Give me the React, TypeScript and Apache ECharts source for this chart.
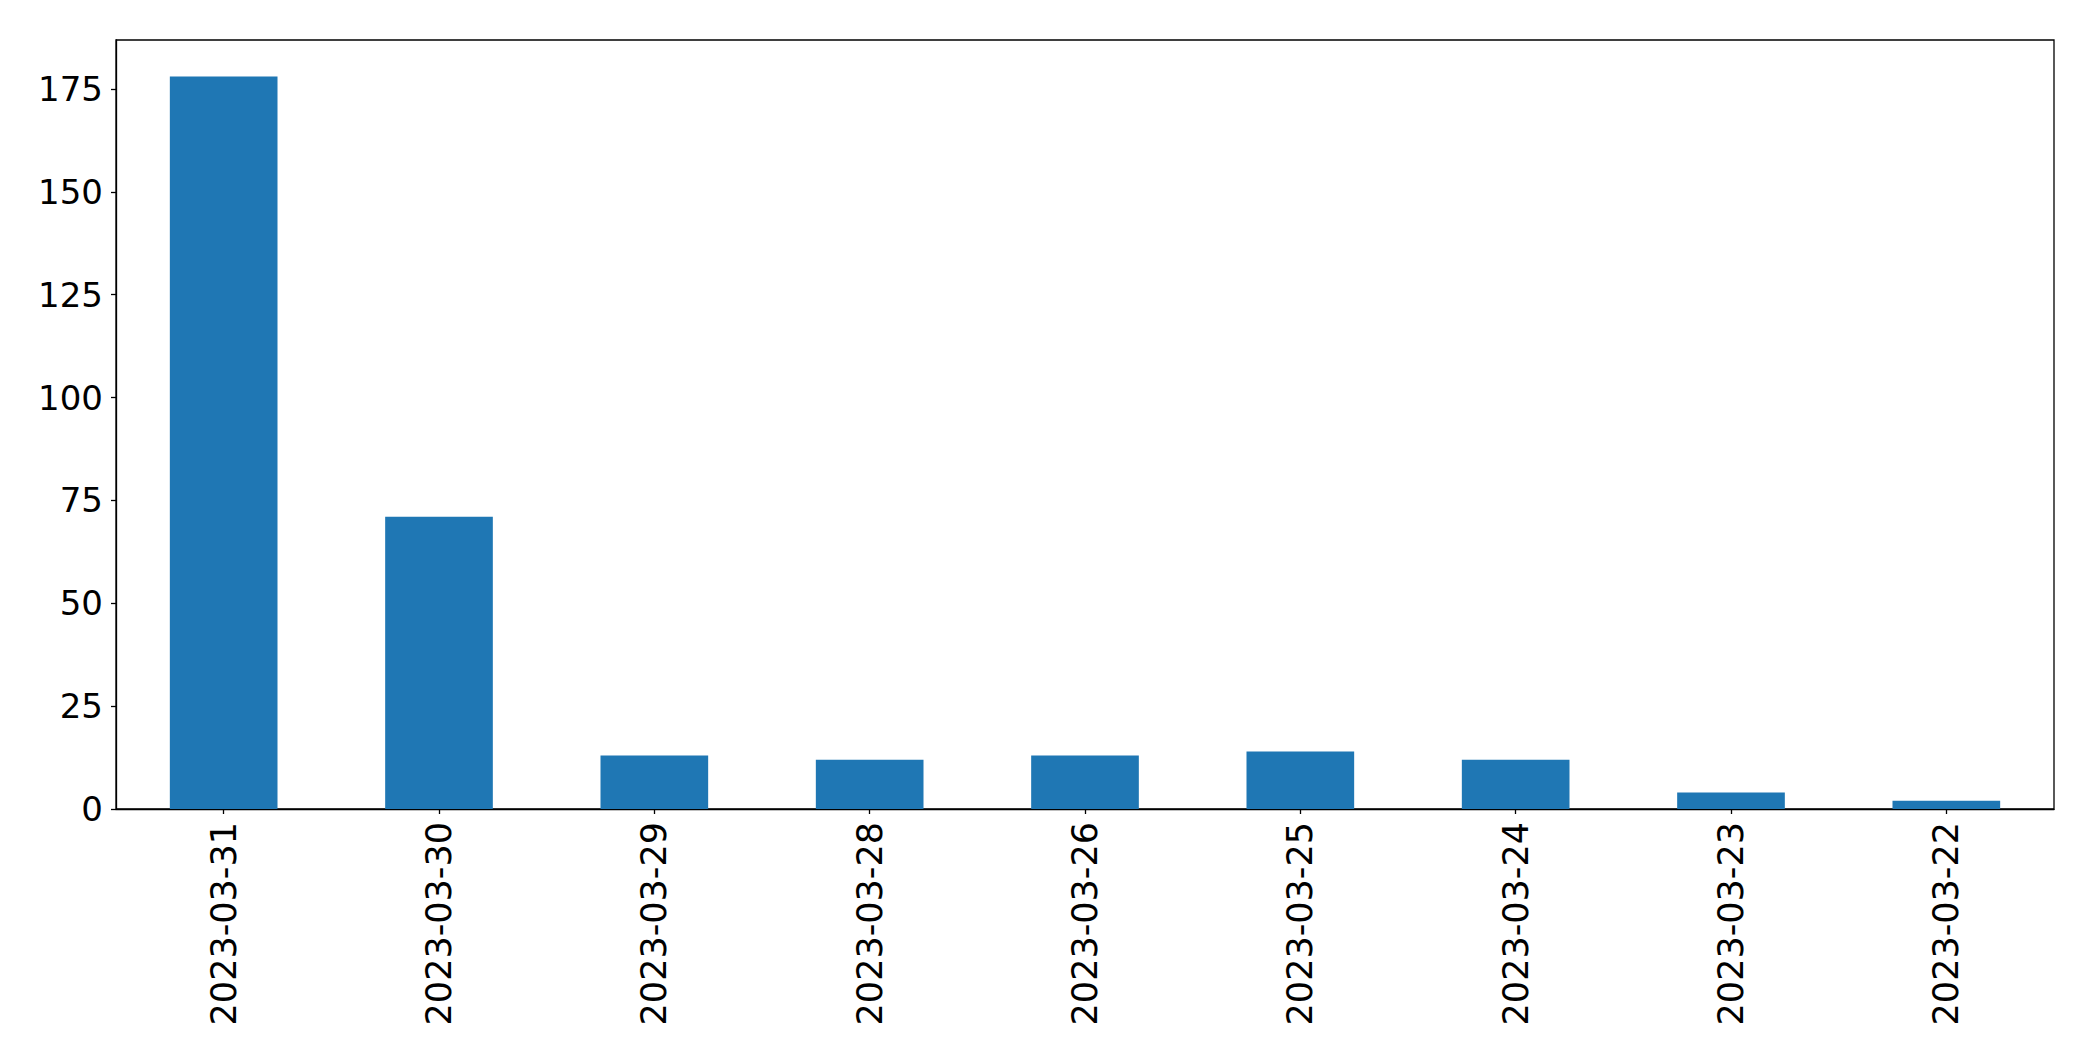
import React, { useEffect, useRef } from "react";
import * as echarts from "echarts";

const categories = [
  "2023-03-31",
  "2023-03-30",
  "2023-03-29",
  "2023-03-28",
  "2023-03-26",
  "2023-03-25",
  "2023-03-24",
  "2023-03-23",
  "2023-03-22",
];
const counts = [178, 71, 13, 12, 13, 14, 12, 4, 2];
const yMax = 186.9;
const yInterval = 25;

export default function App() {
  const ref = useRef<HTMLDivElement>(null);
  useEffect(() => {
    if (!ref.current) return;
    const chart = echarts.init(ref.current, null, { renderer: "svg" });
    const font = "DejaVu Sans";
    chart.setOption({
      animation: false,
      backgroundColor: "#ffffff",
      grid: {
        left: 116,
        right: 39,
        top: 40,
        bottom: 252,
        show: true,
        borderColor: "#000000",
        borderWidth: 1.3,
        backgroundColor: "transparent",
      },
      xAxis: {
        type: "category",
        data: categories,
        axisLine: { show: true, lineStyle: { color: "#000000", width: 1.3 } },
        axisTick: { show: true, alignWithLabel: true, length: 5, lineStyle: { color: "#000000", width: 1.3 } },
        axisLabel: {
          rotate: 90,
          margin: 13,
          fontFamily: font,
          fontSize: 35,
          color: "#000000",
          interval: 0,
        },
        splitLine: { show: false },
      },
      yAxis: {
        type: "value",
        min: 0,
        max: yMax,
        interval: yInterval,
        axisLine: { show: true, lineStyle: { color: "#000000", width: 1.3 } },
        axisTick: { show: true, length: 5, lineStyle: { color: "#000000", width: 1.3 } },
        axisLabel: {
          margin: 13,
          fontFamily: font,
          fontSize: 34,
          color: "#000000",
          showMaxLabel: false,
          formatter: (v: number) => (v % yInterval === 0 ? String(v) : ""),
        },
        splitLine: { show: false },
      },
      series: [
        {
          type: "bar",
          data: counts,
          barWidth: "50%",
          itemStyle: { color: "#1f77b4" },
        },
      ],
    });
    return () => chart.dispose();
  }, []);
  return (
    <div
      ref={ref}
      style={{ position: "fixed", left: 0, top: 0, width: 2093, height: 1061, background: "#fff" }}
    />
  );
}
